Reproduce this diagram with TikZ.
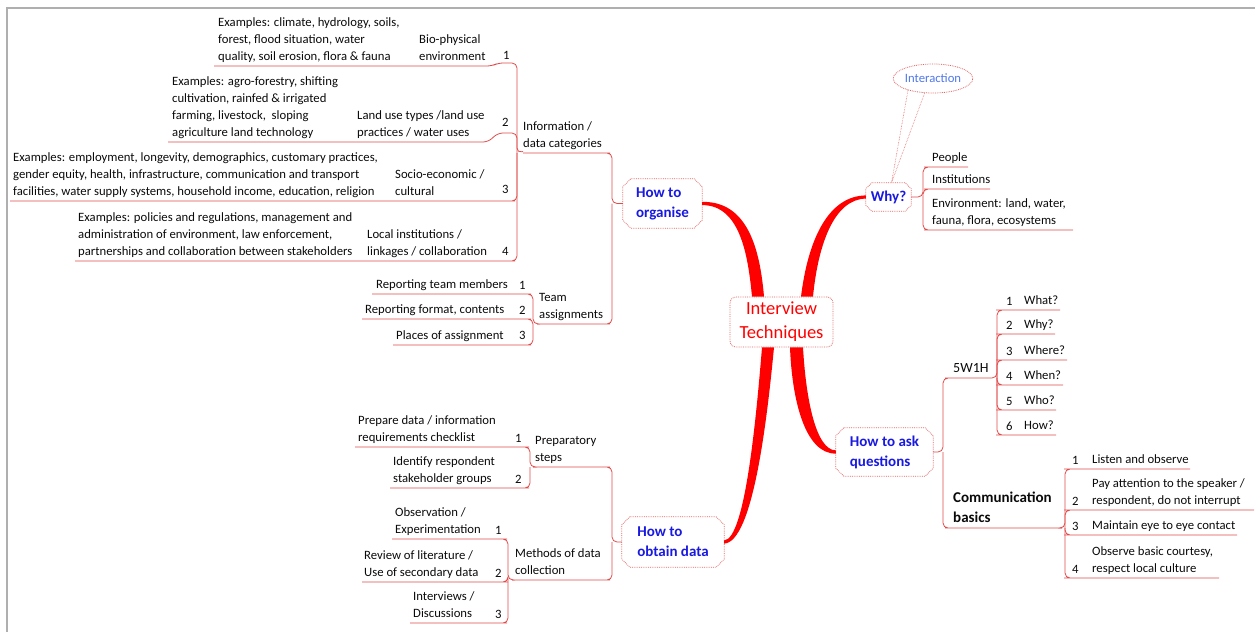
\documentclass[tikz,border=0pt]{standalone}
\usepackage{fontspec}
\setmainfont{Carlito}
\usetikzlibrary{shapes.geometric,calc}
\definecolor{lnc}{RGB}{225,75,75}
\definecolor{boxc}{RGB}{225,100,100}
\definecolor{topicblue}{RGB}{25,25,225}
\definecolor{intblue}{RGB}{80,120,235}
\definecolor{branchred}{RGB}{255,0,0}
\definecolor{framec}{RGB}{175,175,175}
\definecolor{txt}{RGB}{10,10,10}
\newcommand\leaffont{\fontsize{12.7}{17}\selectfont}
\newcommand\chbox[2]{\draw[boxline] ([xshift=#2]#1.north west) -- ([xshift=-#2]#1.north east) -- ([yshift=-#2]#1.north east) -- ([yshift=#2]#1.south east) -- ([xshift=-#2]#1.south east) -- ([xshift=#2]#1.south west) -- ([yshift=#2]#1.south west) -- ([yshift=-#2]#1.north west) -- cycle;}
\begin{document}
\begin{tikzpicture}[x=1pt,y=-1pt,
  leaf/.style={anchor=south west, inner sep=0pt, align=left, font=\leaffont, text=txt, text depth=3.5pt},
  num/.style={anchor=base west, inner sep=0pt, font=\leaffont, text=txt},
  ln/.style={draw=lnc, line width=0.8pt, rounded corners=5pt},
  topic/.style={draw=none, fill=white, inner sep=0pt, align=left, text=topicblue, font=\bfseries\fontsize{15}{20}\selectfont},
  boxline/.style={draw=boxc, line width=0.8pt, densely dotted},
  branch/.style={fill=branchred},
  callout/.style={draw=boxc, line width=0.6pt, densely dotted}]
\useasboundingbox (0,0) rectangle (1255,632);
\draw[framec, line width=2pt] (7,632) -- (7,8) -- (1255,8);

% ---------- topic nodes ----------
\node[draw=boxc, line width=0.8pt, densely dotted, fill=white, rounded corners=6pt, minimum width=103pt, minimum height=50pt, inner sep=0pt, align=center, text=branchred, font=\fontsize{18.5}{24}\selectfont] (c) at (781.5,322) {Interview\\Techniques};
\node[topic, minimum width=79pt, minimum height=49pt] (org) at (662.5,203.5) {How to\\organise};
\node[topic, minimum width=45pt, minimum height=28pt] (why) at (888.5,197) {Why?};
\node[topic, minimum width=97pt, minimum height=48pt] (ask) at (884.5,452) {How to ask\\questions};
\node[topic, minimum width=102pt, minimum height=50pt] (obt) at (673,542) {How to\\obtain data};
\chbox{org}{8pt}
\chbox{why}{6pt}
\chbox{ask}{8pt}
\chbox{obt}{8pt}

% ---------- main branches ----------
\fill[branch] ([yshift=1.6pt]org.east) .. controls (748,201) and (760,250) .. ([xshift=-17.5pt]c.north) -- ([xshift=-29.5pt]c.north) .. controls (748,255) and (740,205) .. ([yshift=-1.6pt]org.east) -- cycle;
\fill[branch] ([yshift=1.6pt]why.west) .. controls (828,196) and (808,240) .. ([xshift=19.5pt]c.north) -- ([xshift=31.5pt]c.north) .. controls (818,245) and (834,199) .. ([yshift=-1.6pt]why.west) -- cycle;
\fill[branch] ([yshift=-1.6pt]ask.west) .. controls (805,454) and (792,400) .. ([xshift=8.5pt]c.south) -- ([xshift=21.5pt]c.south) .. controls (806,400) and (816,450) .. ([yshift=1.6pt]ask.west) -- cycle;
\fill[branch] ([yshift=-1.6pt]obt.east) .. controls (753,542) and (767,420) .. ([xshift=-7.5pt]c.south) -- ([xshift=-19.5pt]c.south) .. controls (756,420) and (745,539) .. ([yshift=1.6pt]obt.east) -- cycle;

% ---------- Interaction callout ----------
\node[ellipse, draw=boxc, line width=0.8pt, densely dotted, fill=white, minimum width=72pt, minimum height=29pt, inner sep=0pt, text=intblue, font=\leaffont] (int) at (933,78.5) {Interaction};
\draw[callout] (int.205) -- ([xshift=3pt]why.north) -- (int.240);

% ---------- How to organise ----------
\node[leaf] (a1x) at (218,64.5) {Examples: climate, hydrology, soils,\\forest, flood situation, water\\quality, soil erosion, flora \& fauna};
\node[leaf] (a1) at (419,64.5) {Bio-physical\\environment};
\node[num] (n-a1) at (503,59) {1};
\node[leaf] (a2x) at (172,140.5) {Examples: agro-forestry, shifting\\cultivation, rainfed \& irrigated\\farming, livestock,\ \ sloping\\agriculture land technology};
\node[leaf] (a2) at (357,140.5) {Land use types /land use\\practices / water uses};
\node[num] (n-a2) at (502,126) {2};
\node[leaf] (a3x) at (13,199.5) {Examples: employment, longevity, demographics, customary practices,\\gender equity, health, infrastructure, communication and transport\\facilities, water supply systems, household income, education, religion};
\node[leaf] (a3) at (395,199.5) {Socio-economic /\\cultural};
\node[num] (n-a3) at (502,193) {3};
\node[leaf] (a4x) at (78,259.5) {Examples: policies and regulations, management and\\administration of environment, law enforcement,\\partnerships and collaboration between stakeholders};
\node[leaf] (a4) at (367,259.5) {Local institutions /\\linkages / collaboration};
\node[num] (n-a4) at (502,255) {4};
\node[leaf] (info) at (523,151.5) {Information /\\data categories};
\node[leaf] (team) at (539,322.5) {Team\\assignments};
\node[leaf] (t1) at (376,292.5) {Reporting team members};
\node[num] (n-t1) at (519,289) {1};
\node[leaf] (t2) at (365,317.5) {Reporting format, contents};
\node[num] (n-t2) at (519,314) {2};
\node[leaf] (t3) at (396,343.5) {Places of assignment};
\node[num] (n-t3) at (519,339) {3};

\draw[ln] (214,66) -- (492,66) -- (498,63) -| (517,153) -- (info.south west);
\draw[ln] (168,142) -- (488,142) -- (498,133) -| (517,153);
\draw[ln] (10,201) -- (510,201) -| (517,153);
\draw[ln] (75,261) -- (510,261) -| (517,153);
\draw[ln] (523,153) -- (605,153) -| (612,203.5) -- (org.west);
\draw[ln] (537,324) -- (605,324) -| (612,203.5);
\draw[ln] (372,294) -- (526,294) -| (533,324) -- (537,324);
\draw[ln] (362,319) -- (526,319) -| (533,324);
\draw[ln] (393,345) -- (526,345) -| (533,324);

% ---------- Why? ----------
\node[leaf] (w1) at (932,165.5) {People};
\node[leaf] (w2) at (932,187.5) {Institutions};
\node[leaf] (w3) at (932,228.5) {Environment: land, water,\\fauna, flora, ecosystems};
\draw[ln] (968,167) -- (929,167) -| (923,197) -- (why.east);
\draw[ln] (990,189) -- (929,189) -| (923,197);
\draw[ln] (1073,230) -- (929,230) -| (923,197);

% ---------- How to ask questions ----------
\node[leaf, font=\fontsize{14}{18}\selectfont] (w5) at (953,376.5) {5W1H};
\node[leaf, font=\bfseries\fontsize{15}{20}\selectfont] (comm) at (953,526.5) {Communication\\basics};
\draw[ln] (990,378) -- (950,378) -| (943,452) -- (ask.east);
\draw[ln] (1062,528) -- (950,528) -| (943,452);

\node[num] (q1n) at (1006,305) {1}; \node[leaf] (q1) at (1024,308.5) {What?};
\node[num] (q2n) at (1006,329) {2}; \node[leaf] (q2) at (1024,332.5) {Why?};
\node[num] (q3n) at (1006,355) {3}; \node[leaf] (q3) at (1024,358.5) {Where?};
\node[num] (q4n) at (1006,380) {4}; \node[leaf] (q4) at (1024,383.5) {When?};
\node[num] (q5n) at (1006,405) {5}; \node[leaf] (q5) at (1024,408.5) {Who?};
\node[num] (q6n) at (1006,430) {6}; \node[leaf] (q6) at (1024,433.5) {How?};
\draw[ln] (1060,310) -- (1001,310) -| (997,378) -- (990,378);
\draw[ln] (1055,334) -- (1001,334) -| (997,378);
\draw[ln] (1067,360) -- (1001,360) -| (997,378);
\draw[ln] (1063,385) -- (1001,385) -| (997,378);
\draw[ln] (1056,410) -- (1001,410) -| (997,378);
\draw[ln] (1056,435) -- (1001,435) -| (997,378);

\node[num] (c1n) at (1072,464) {1}; \node[leaf] (c1) at (1092,467.5) {Listen and observe};
\node[num] (c2n) at (1072,505) {2}; \node[leaf] (c2) at (1092,508.5) {Pay attention to the speaker /\\respondent, do not interrupt};
\node[num] (c3n) at (1072,530) {3}; \node[leaf] (c3) at (1092,533.5) {Maintain eye to eye contact};
\node[num] (c4n) at (1072,573) {4}; \node[leaf] (c4) at (1092,576.5) {Observe basic courtesy,\\respect local culture};
\draw[ln] (1190,469) -- (1069,469) -| (1065,528) -- (1062,528);
\draw[ln] (1254,510) -- (1069,510) -| (1065,528);
\draw[ln] (1237,535) -- (1069,535) -| (1065,528);
\draw[ln] (1219,578) -- (1069,578) -| (1065,528);

% ---------- How to obtain data ----------
\node[leaf] (prep) at (535,465.5) {Preparatory\\steps};
\node[leaf] (meth) at (515,578.5) {Methods of data\\collection};
\draw[ln] (533,467) -- (605,467) -| (612,542) -- (obt.west);
\draw[ln] (512,580) -- (605,580) -| (612,542);

\node[leaf] (p1) at (358,445.5) {Prepare data / information\\requirements checklist};
\node[num] (p1n) at (515,442) {1};
\node[leaf] (p2) at (393,486.5) {Identify respondent\\stakeholder groups};
\node[num] (p2n) at (515,483) {2};
\draw[ln] (355,447) -- (524,447) -| (530,467) -- (533,467);
\draw[ln] (390,488) -- (524,488) -| (530,467);

\node[leaf] (m1) at (395,537.5) {Observation /\\Experimentation};
\node[num] (m1n) at (495,534) {1};
\node[leaf] (m2) at (364,580.5) {Review of literature /\\Use of secondary data};
\node[num] (m2n) at (495,577) {2};
\node[leaf] (m3) at (413,621.5) {Interviews /\\Discussions};
\node[num] (m3n) at (495,618) {3};
\draw[ln] (392,539) -- (502,539) -| (508,580) -- (512,580);
\draw[ln] (362,582) -- (503,582) -| (508,580);
\draw[ln] (410,623) -- (502,623) -| (508,580);
\end{tikzpicture}
\end{document}
